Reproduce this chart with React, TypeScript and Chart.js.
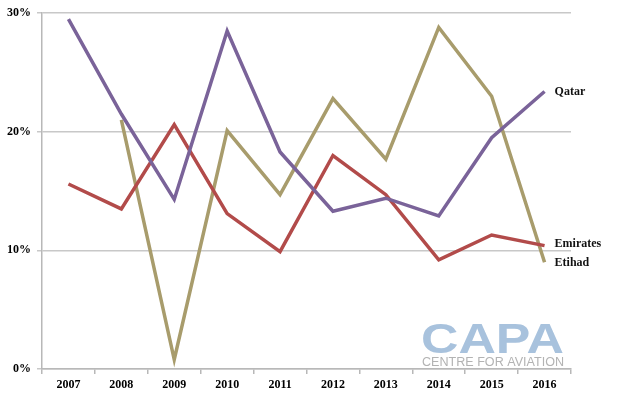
import React, { useEffect, useRef } from "react";
import { Chart, registerables } from "chart.js";

Chart.register(...registerables);

const years = ["2007", "2008", "2009", "2010", "2011", "2012", "2013", "2014", "2015", "2016"];
const qatar = [29.5, 21.5, 14.3, 28.5, 18.3, 13.3, 14.4, 12.9, 19.5, 23.4];
const emirates = [15.6, 13.5, 20.6, 13.1, 9.9, 18.0, 14.7, 9.2, 11.3, 10.4];
const etihad = [null, 21.0, 0.8, 20.1, 14.7, 22.8, 17.7, 28.8, 23.0, 9.0];
const yTicks = [0, 10, 20, 30];

const endLabels = {
  id: "endLabels",
  afterDatasetsDraw(chart: any) {
    const ctx = chart.ctx;
    ctx.save();
    ctx.font = "bold 12px 'Liberation Serif'";
    ctx.fillStyle = "#111";
    ctx.textBaseline = "middle";
    ctx.textAlign = "left";
    chart.data.datasets.forEach((ds: any, i: number) => {
      const meta = chart.getDatasetMeta(i);
      const pt = meta.data[meta.data.length - 1];
      if (!pt) return;
      ctx.fillText(ds.label, pt.x + 10, pt.y + (ds.labelDy || 0));
    });
    ctx.restore();
  },
};

const logo = {
  id: "logo",
  afterDraw(chart: any) {
    const ctx = chart.ctx;
    ctx.save();
    ctx.fillStyle = "#a8c2dd";
    ctx.font = "bold 42px 'Liberation Sans'";
    ctx.textBaseline = "alphabetic";
    const w1 = ctx.measureText("CAPA").width;
    ctx.translate(421, 353);
    ctx.scale(143 / w1, 1);
    ctx.fillText("CAPA", 0, 0);
    ctx.restore();
    ctx.save();
    ctx.fillStyle = "#b3b3b3";
    ctx.font = "12.5px 'Liberation Sans'";
    const w2 = ctx.measureText("CENTRE FOR AVIATION").width;
    ctx.translate(422, 366);
    ctx.scale(142 / w2, 1);
    ctx.fillText("CENTRE FOR AVIATION", 0, 0);
    ctx.restore();
  },
};

export default function App() {
  const ref = useRef<HTMLCanvasElement>(null);
  useEffect(() => {
    if (!ref.current) return;
    const chart = new Chart(ref.current, {
      type: "line",
      data: {
        labels: years,
        datasets: [
          { label: "Qatar", data: qatar, borderColor: "#7a6399", labelDy: 0 } as any,
          { label: "Emirates", data: emirates, borderColor: "#b24b4a", labelDy: -2 } as any,
          { label: "Etihad", data: etihad, borderColor: "#a89c6c", labelDy: 1 } as any,
        ].map((d) => ({ ...d, borderWidth: 3.5, pointRadius: 0, tension: 0, fill: false, spanGaps: false })),
      },
      options: {
        responsive: false,
        animation: false,
        layout: { padding: { top: 10, right: 47, left: 0, bottom: 0 } },
        plugins: { legend: { display: false }, tooltip: { enabled: false } },
        scales: {
          x: {
            type: "category",
            offset: true,
            grid: { display: true, drawOnChartArea: false, offset: true, color: "#b8b8b8", lineWidth: 1.5, tickLength: 5 },
            border: { color: "#b8b8b8", width: 1.5 },
            ticks: { color: "#000", font: { family: "'Liberation Serif'", weight: "bold", size: 12 }, padding: 4, maxRotation: 0 },
            afterFit: (s: any) => { s.height = 28; },
          },
          y: {
            min: 0,
            max: 30,
            afterBuildTicks: (s: any) => { s.ticks = yTicks.map((v) => ({ value: v })); },
            grid: { color: "#c8c8c8", lineWidth: 1.5, tickLength: 5 },
            border: { color: "#b8b8b8", width: 1.5 },
            ticks: { color: "#000", font: { family: "'Liberation Serif'", weight: "bold", size: 12 }, padding: 6, callback: (v: any) => v + "%" },
            afterFit: (s: any) => { s.width = 42; },
          },
        },
      },
      plugins: [endLabels, logo],
    });
    return () => chart.destroy();
  }, []);
  return (
    <div style={{ position: "absolute", left: 0, top: 0, width: 618, height: 397, background: "#fff" }}>
      <canvas ref={ref} width={618} height={397} />
    </div>
  );
}
